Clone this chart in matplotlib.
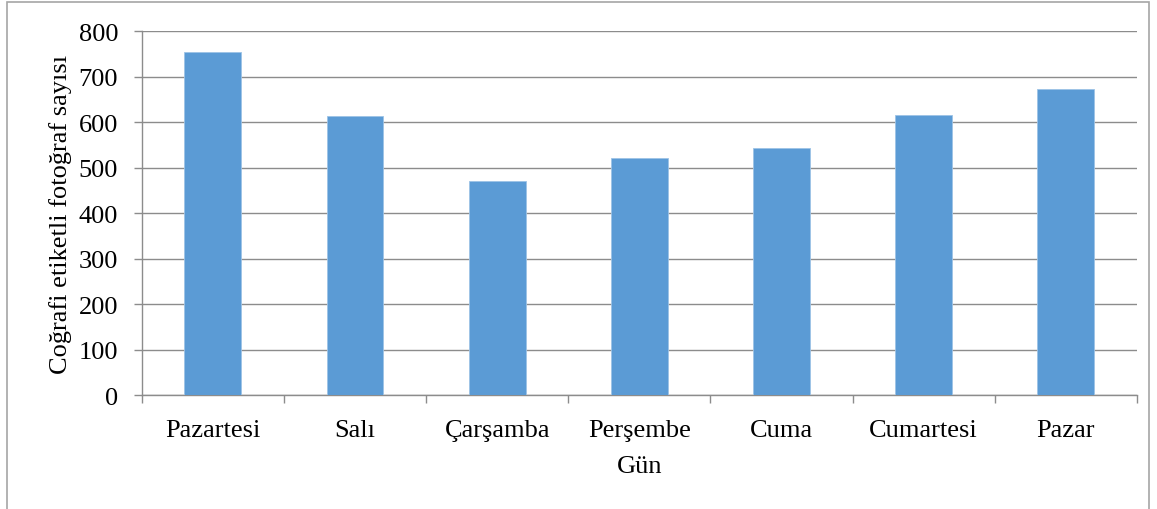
import matplotlib.pyplot as plt
from matplotlib.patches import Rectangle
import numpy as np

days = ["Pazartesi", "Salı", "Çarşamba", "Perşembe", "Cuma", "Cumartesi", "Pazar"]
counts = [755, 614, 470, 522, 544, 615, 674]
y_ticks = [0, 100, 200, 300, 400, 500, 600, 700, 800]

plt.rcParams['font.family'] = ['Liberation Serif', 'DejaVu Serif']

fig = plt.figure(figsize=(11.57, 5.10), dpi=100)
ax = fig.add_axes([0.1225, 0.2235, 0.8602, 0.7132])

fs = 19
grid_c = "#8c8c8c"
x = np.arange(len(days))
ax.bar(x, counts, width=0.4, color="#5B9BD5", edgecolor="#9dc3e6", linewidth=0.6, zorder=3)

ax.set_xlim(-0.5, len(days) - 0.5)
ax.set_ylim(0, 800)
ax.set_yticks(y_ticks)
ax.set_yticklabels([str(v) for v in y_ticks], fontsize=fs)
ax.yaxis.grid(True, color=grid_c, linewidth=1.0, zorder=0)

# category labels centred, tick marks on the category boundaries
ax.set_xticks(np.arange(-0.5, len(days) + 0.5, 1.0))
ax.set_xticklabels([])
ax.set_xticks(x, minor=True)
ax.set_xticklabels(days, minor=True, fontsize=fs)
ax.tick_params(axis='x', which='minor', length=0, pad=17)
ax.tick_params(axis='x', which='major', length=6, color=grid_c, width=1.0)
ax.tick_params(axis='y', length=6, color=grid_c, width=1.0, pad=11)

for side in ("top", "right"):
    ax.spines[side].set_visible(False)
for side in ("left", "bottom"):
    ax.spines[side].set_color(grid_c)
    ax.spines[side].set_linewidth(1.0)

ax.set_xlabel("Gün", fontsize=fs, labelpad=10)
ax.set_ylabel("Coğrafi etiketli fotoğraf sayısı", fontsize=fs, labelpad=5)

# chart frame
fig.patches.append(Rectangle((7 / 1157, -0.01), 1142 / 1157, 1 - 3 / 510 + 0.01,
                             transform=fig.transFigure, fill=False,
                             edgecolor="#a6a6a6", linewidth=1.2))

fig.savefig("out.png", dpi=100)
